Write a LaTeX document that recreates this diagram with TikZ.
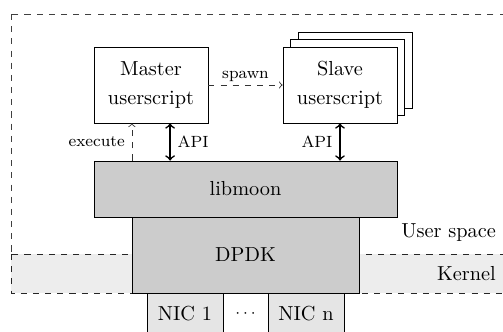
\documentclass[tikz,border=0pt]{standalone}
\usetikzlibrary{shadows}

\tikzset{
  block/.style={draw, fill=white, align=center, minimum width=56.1pt, minimum height=37.4pt},
  layer/.style={draw, fill=black!20, minimum height=27.6pt},
  nic/.style={draw, fill=black!10, minimum width=37.4pt, minimum height=20.2pt},
  stack/.style={general shadow={shadow xshift=7.4pt, shadow yshift=7.4pt, fill=white, draw},
                general shadow={shadow xshift=3.7pt, shadow yshift=3.7pt, fill=white, draw}},
  api/.style={<->, thick},
  ctrl/.style={->, dashed, black!80},
  lbl/.style={font=\footnotesize, text=black}
}

\begin{document}
\begin{tikzpicture}[x=0.4925pt, y=-0.4925pt]
            \path[use as bounding box, clip] (0,0) rectangle (503,331);

            % Zones
            \draw[dashed, black!75] (11,14) rectangle (530,254);
            \draw[dashed, black!85, fill=black!7] (11,254) rectangle (530,293);
            \node[anchor=east] (user) at (503,233) {User space};
            \node[anchor=east] (kernel) at (503,274) {Kernel};

            % Scripts
            \node[block] (master) at (151,85) {Master\\[2pt]userscript};
            \node[block, stack] (slave) at (340,85) {Slave\\[2pt]userscript};

            % Layers
            \node[layer, minimum width=149.2pt] (libmoon) at (245.5,189) {libmoon};
            \node[layer, minimum width=111.8pt, minimum height=37.4pt] (dpdk) at (245.5,255) {DPDK};

            % NICs
            \node[nic] (nic1) at (185,313.5) {NIC 1};
            \node[nic] (nicn) at (306,313.5) {NIC n};
            \node[font=\footnotesize] (dots) at (245.5,313.5) {$\cdots$};

            % Connections
            \draw[ctrl] (master.east) -- (slave.west) node[midway, above, lbl, inner sep=1.5pt] {spawn};
            \draw[ctrl] ([xshift=-9.4pt]master.south |- libmoon.north) -- ([xshift=-9.4pt]master.south)
                node[midway, left, lbl] {execute};
            \draw[api] ([xshift=9.4pt]master.south) -- ([xshift=9.4pt]master.south |- libmoon.north)
                node[midway, right, lbl] {API};
            \draw[api] (slave.south) -- (slave.south |- libmoon.north) node[midway, left, lbl] {API};

        \end{tikzpicture}
\end{document}
